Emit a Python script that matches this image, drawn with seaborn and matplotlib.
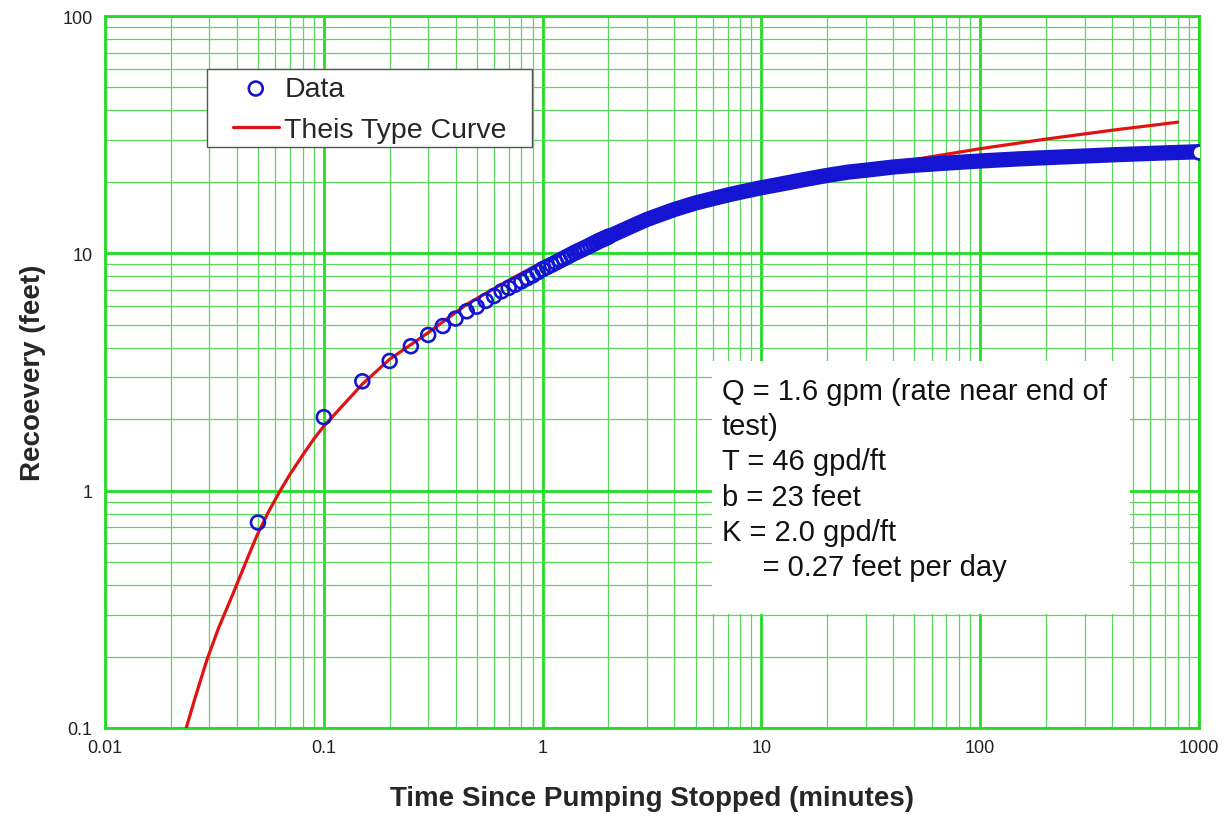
import matplotlib
matplotlib.use('Agg')
import matplotlib.pyplot as plt
import seaborn as sns
import numpy as np
from matplotlib.patches import Rectangle

#------------------DATA-------------------------------------------
# recovery data, discrete readings (minutes, feet)
t_early = [0.05, 0.10, 0.15, 0.20, 0.25, 0.30, 0.35, 0.40, 0.45, 0.50,
           0.55, 0.60, 0.65, 0.70, 0.75, 0.80, 0.85, 0.90, 0.95, 1.00,
           1.05, 1.10, 1.15, 1.20, 1.25, 1.30, 1.35, 1.40, 1.45, 1.50,
           1.55, 1.60, 1.65, 1.70, 1.75, 1.80, 1.85, 1.90, 1.95, 2.00]
r_early = [0.734, 2.04, 2.89, 3.52, 4.06, 4.53, 4.94, 5.31, 5.70, 5.96,
           6.30, 6.61, 6.92, 7.15, 7.38, 7.62, 7.85, 8.07, 8.32, 8.57,
           8.76, 8.95, 9.14, 9.33, 9.51, 9.69, 9.87, 10.05, 10.2, 10.35,
           10.5, 10.65, 10.8, 10.95, 11.1, 11.25, 11.38, 11.5, 11.62, 11.75]

# later readings, dense enough to merge into a band
t_late = [2, 2.5, 3, 4, 5, 6, 7, 8, 10, 12, 15, 20, 25, 30, 40, 50, 70,
          100, 150, 200, 300, 400, 500, 700, 1000]
r_late = [11.75, 12.9, 13.9, 15.3, 16.3, 17.0, 17.6, 18.1, 18.9, 19.5, 20.3,
          21.3, 22.0, 22.4, 23.1, 23.5, 24.0, 24.5, 25.0, 25.3, 25.7, 26.0,
          26.2, 26.5, 26.8]

# Theis type curve
t_theis = [0.0235, 0.026, 0.0293, 0.033, 0.0387, 0.044, 0.0494, 0.056,
           0.0632, 0.07, 0.08, 0.09, 0.1, 0.15, 0.2, 0.3, 0.45, 0.7, 1.0,
           1.5, 2, 3, 5, 10, 20, 40, 52, 100, 200, 400, 800]
r_theis = [0.1, 0.137, 0.195, 0.263, 0.373, 0.499, 0.645, 0.818, 1.0,
           1.17, 1.41, 1.65, 1.87, 2.81, 3.58, 4.63, 6.1, 7.7, 9.2, 10.8,
           12.0, 13.9, 16.4, 19.4, 22.0, 24.3, 25.0, 27.6, 30.3, 33.0, 35.7]

x_ticks = [0.01, 0.1, 1, 10, 100, 1000]
x_labels = ['0.01', '0.1', '1', '10', '100', '1000']
y_ticks = [0.1, 1, 10, 100]
y_labels = ['0.1', '1', '10', '100']

notes = ['Q = 1.6 gpm (rate near end of',
         'test)',
         'T = 46 gpd/ft',
         'b = 23 feet',
         'K = 2.0 gpd/ft',
         '     = 0.27 feet per day']

#------------------STYLE-------------------------------------------
sns.set_style('white')
plt.rcParams['font.family'] = ['Liberation Sans', 'DejaVu Sans']

blue = '#1414D2'
red = '#E01212'
green_major = '#22DD22'
green_minor = '#5CD65C'

fig = plt.figure(figsize=(12.26, 8.2), dpi=100)
ax = fig.add_axes([105/1226, 1-729/820, (1199-105)/1226, (729-17)/820])
ax.set_xscale('log')
ax.set_yscale('log')

# plot
sns.lineplot(x=t_theis, y=r_theis, ax=ax, color=red, linewidth=2.3,
             label='Theis Type Curve', zorder=4, sort=False)
ax.plot(t_late, r_late, color=blue, linewidth=11, solid_capstyle='round',
        zorder=5)
sns.scatterplot(x=t_early, y=r_early, ax=ax, marker='o', s=100,
                facecolor='none', edgecolor=blue, linewidth=1.9,
                label='Data', zorder=6)
ax.scatter(t_late[-1:], r_late[-1:], s=100, facecolor='white',
           edgecolor=blue, linewidth=1.9, zorder=7)

ax.set_xlim(0.01, 1000)
ax.set_ylim(0.1, 100)
ax.set_xticks(x_ticks)
ax.set_xticklabels(x_labels)
ax.set_yticks(y_ticks)
ax.set_yticklabels(y_labels)

# grid
ax.set_axisbelow(True)
ax.grid(which='major', color=green_major, linewidth=2.0)
ax.grid(which='minor', color=green_minor, linewidth=0.9)
for s in ax.spines.values():
    s.set_color(green_major)
    s.set_linewidth(2.0)
ax.tick_params(axis='x', which='major', length=0, pad=8, labelsize=13,
               labelcolor='#222222')
ax.tick_params(axis='y', which='major', length=4.5, width=2,
               color=green_major, pad=4.5, labelsize=13, labelcolor='#222222')
ax.tick_params(which='minor', length=0)

ax.set_xlabel('Time Since Pumping Stopped (minutes)', fontsize=20,
              fontweight='bold', labelpad=21)
ax.set_ylabel('Recoevery (feet)', fontsize=20, fontweight='bold', labelpad=12)

# legend (frame drawn separately)
ax.add_patch(Rectangle((207/1226, 1-148/820), (532-207)/1226, (148-70)/820,
                       transform=fig.transFigure, facecolor='white',
                       edgecolor='#555555', linewidth=1.0, zorder=9))
h, l = ax.get_legend_handles_labels()
order = [l.index('Data'), l.index('Theis Type Curve')]
leg = ax.legend([h[i] for i in order], [l[i] for i in order],
                loc='upper left', bbox_to_anchor=(233/1226, 1-77/820),
                bbox_transform=fig.transFigure, fontsize=20.5,
                frameon=False, borderpad=0, labelspacing=0.53,
                handlelength=1.6, handletextpad=0.2, borderaxespad=0)
leg.set_zorder(10)

# notes box
ax.add_patch(Rectangle((712/1226, 1-615/820), (1130-712)/1226, (615-362)/820,
                       transform=fig.transFigure, facecolor='white',
                       edgecolor='none', zorder=8))
for i, line in enumerate(notes):
    fig.text(722/1226, 1-(392 + 35.2*i)/820, line, fontsize=21,
             va='center', ha='left', color='#111111', zorder=9)

fig.savefig('out.png', dpi=100)
